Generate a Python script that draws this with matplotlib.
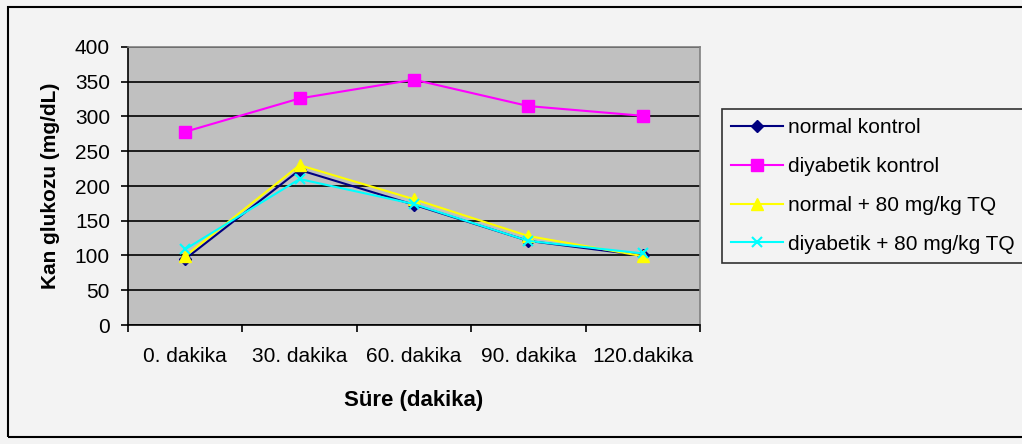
import numpy as np
import matplotlib
matplotlib.use("Agg")
import matplotlib.pyplot as plt
from matplotlib.patches import Rectangle

plt.rcParams['font.family'] = ['Liberation Sans', 'DejaVu Sans']

# data
categories = ["0. dakika", "30. dakika", "60. dakika", "90. dakika", "120.dakika"]
normal_kontrol = [95, 223, 173, 121, 100]
diyabetik_kontrol = [278, 326, 353, 315, 301]
normal_tq = [99, 230, 181, 128, 99]
diyabetik_tq = [109, 210, 174, 121, 103]
y_ticks = [0, 50, 100, 150, 200, 250, 300, 350, 400]

series = [
    ("normal kontrol", normal_kontrol, "#000080", "D", 6.5),
    ("diyabetik kontrol", diyabetik_kontrol, "#ff00ff", "s", 8),
    ("normal + 80 mg/kg TQ", normal_tq, "#ffff00", "^", 9),
    ("diyabetik + 80 mg/kg TQ", diyabetik_tq, "#00ffff", "x", 7),
]

fig = plt.figure(figsize=(10.22, 4.44), dpi=100)
fig.patch.set_facecolor("#f3f3f3")

# outer chart border
fig.add_artist(Rectangle((8 / 1022, 7 / 444), 1.2, 430 / 444, transform=fig.transFigure,
                         fill=False, edgecolor="black", linewidth=1.5))

ax = fig.add_axes([128 / 1022, 119 / 444, 572 / 1022, 278 / 444])
ax.set_facecolor("#c0c0c0")

x = np.arange(len(categories))
for label, vals, color, marker, ms in series:
    ax.plot(x, vals, color=color, linewidth=1.5, marker=marker, markersize=ms,
            markeredgewidth=1.5 if marker == "x" else 1, label=label, zorder=3)

ax.set_xlim(-0.5, len(categories) - 0.5)
ax.set_ylim(0, 400)
ax.set_yticks(y_ticks)
ax.yaxis.grid(True, color="black", linewidth=1.2)
ax.set_axisbelow(True)

ax.set_xticks(np.arange(len(categories) + 1) - 0.5)
ax.set_xticklabels([])
ax.set_xticks(x, minor=True)
ax.set_xticklabels(categories, minor=True)
ax.tick_params(axis="x", which="minor", length=0, pad=16, labelsize=15)
ax.tick_params(axis="x", which="major", length=5, width=1.2, direction="out")
ax.tick_params(axis="y", length=5, width=1.2, direction="out", labelsize=15, pad=8)

for side in ("top", "right"):
    ax.spines[side].set_color("#808080")
    ax.spines[side].set_linewidth(1.2)
for side in ("left", "bottom"):
    ax.spines[side].set_color("black")
    ax.spines[side].set_linewidth(1.2)

ax.set_xlabel("Süre (dakika)", fontsize=16, fontweight="bold", labelpad=17)
ax.set_ylabel("Kan glukozu (mg/dL)", fontsize=15, fontweight="bold", labelpad=11)

leg = ax.legend(loc="center left", bbox_to_anchor=(722 / 1022, 258 / 444),
                bbox_transform=fig.transFigure, fontsize=15, frameon=True,
                fancybox=False, edgecolor="black", facecolor="#f3f3f3",
                handlelength=2.5, labelspacing=0.95, borderpad=0.45,
                handletextpad=0.2, borderaxespad=0)
leg.get_frame().set_linewidth(1.2)

fig.savefig("out.png", dpi=100, facecolor=fig.get_facecolor())
